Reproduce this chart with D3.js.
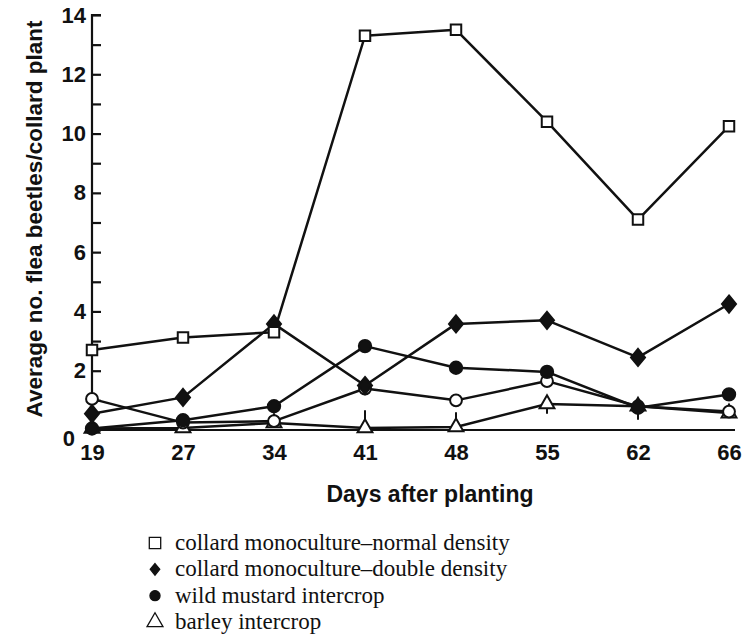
<!DOCTYPE html>
<html>
<head>
<meta charset="utf-8">
<script src="https://cdn.jsdelivr.net/npm/d3@7"></script>
<style>
  html, body { margin: 0; padding: 0; background: #ffffff; }
  svg { display: block; }
  .axis path, .axis line { stroke: #111; stroke-width: 2.2; }
  .axis text { font-family: "Liberation Sans", Arial, sans-serif; font-weight: bold; font-size: 22px; fill: #111; }
</style>
</head>
<body>
<div id="chart"></div>
<script>
(() => {
  'use strict';

  // ── Data ──
  const days = ['19', '27', '34', '41', '48', '55', '62', '66'];
  const normalDensity = [2.7, 3.12, 3.3, 13.3, 13.5, 10.4, 7.1, 10.25];
  const doubleDensity = [0.55, 1.1, 3.58, 1.5, 3.58, 3.7, 2.45, 4.25];
  const wildMustard   = [0.05, 0.33, 0.8, 2.83, 2.1, 1.96, 0.75, 1.2];
  const barley        = [0.05, 0.07, 0.24, 0.07, 0.1, 0.88, 0.8, 0.57];
  const openCircle    = [1.05, 0.25, 0.3, 1.4, 1.0, 1.65, 0.8, 0.62];
  // partial error bars on the barley series [day, low, high]
  const barleyErr = [['41', 0.07, 0.67], ['48', 0.1, 0.6], ['55', 0.55, 0.88], ['62', 0.35, 0.8]];
  const yTicks = [0, 2, 4, 6, 8, 10, 12, 14];
  const legendLabels = [
    'collard monoculture–normal density',
    'collard monoculture–double density',
    'wild mustard intercrop',
    'barley intercrop'
  ];

  const W = 753, H = 638;
  const ink = '#111';

  // squat diamond, closer to the printed marker than d3.symbolDiamond
  const fatDiamond = {
    draw(ctx, size) {
      const h = Math.sqrt(size) * 0.78, w = h * 0.82;
      ctx.moveTo(0, -h); ctx.lineTo(w, 0); ctx.lineTo(0, h); ctx.lineTo(-w, 0); ctx.closePath();
    }
  };

  const svg = d3.select('#chart').append('svg')
    .attr('width', W).attr('height', H);

  // ── Scales ──
  const x = d3.scalePoint().domain(days).range([92, 729]);
  const y = d3.scaleLinear().domain([0, 14]).range([430, 15]);

  // ── Axes ──
  svg.append('g').attr('class', 'axis')
    .attr('transform', 'translate(92,0)')
    .call(d3.axisRight(y).tickValues(d3.range(0, 15, 1)).tickSize(9).tickFormat(''))
    .call(g => g.select('.domain').attr('d', `M0,${y(0)}V${y(14)}H9`));

  svg.append('g').attr('class', 'axis')
    .attr('transform', 'translate(92,0)')
    .call(d3.axisLeft(y).tickValues(yTicks).tickSize(0).tickPadding(6))
    .call(g => g.select('.domain').remove())
    .call(g => g.selectAll('text').filter(d => d === 0).attr('dx', '-0.5em').attr('dy', '0.7em'));

  svg.append('g').attr('class', 'axis')
    .attr('transform', `translate(0,${y(0)})`)
    .call(d3.axisBottom(x).tickSize(0).tickPadding(14))
    .call(g => g.select('.domain').attr('d', `M92,0H735`))
    .call(g => g.selectAll('text').attr('font-size', '21px'));

  // Axis titles
  svg.append('text')
    .attr('x', 430).attr('y', 502)
    .attr('text-anchor', 'middle')
    .attr('font-family', '"Liberation Sans", Arial, sans-serif')
    .attr('font-weight', 'bold').attr('font-size', '23px').attr('fill', ink)
    .text('Days after planting');

  svg.append('text')
    .attr('transform', 'rotate(-90)')
    .attr('x', -219).attr('y', 42)
    .attr('text-anchor', 'middle')
    .attr('font-family', '"Liberation Sans", Arial, sans-serif')
    .attr('font-weight', 'bold').attr('font-size', '22.5px').attr('fill', ink)
    .text('Average no. flea beetles/collard plant');

  // ── Lines ──
  const line = d3.line().x(d => x(d[0])).y(d => y(d[1]));
  const pairs = vals => days.map((d, i) => [d, vals[i]]);

  const series = [
    { vals: barley,        sym: d3.symbolTriangle, size: 95,  fill: '#fff' },
    { vals: openCircle,    sym: d3.symbolCircle,   size: 110, fill: '#fff' },
    { vals: wildMustard,   sym: d3.symbolCircle,   size: 120, fill: ink },
    { vals: doubleDensity, sym: fatDiamond,        size: 120, fill: ink },
    { vals: normalDensity, sym: d3.symbolSquare,   size: 110, fill: '#fff' }
  ];

  // error bars
  svg.selectAll('.err').data(barleyErr).join('line')
    .attr('x1', d => x(d[0])).attr('x2', d => x(d[0]))
    .attr('y1', d => y(d[1])).attr('y2', d => y(d[2]))
    .attr('stroke', ink).attr('stroke-width', 2);

  series.forEach(s => {
    svg.append('path')
      .datum(pairs(s.vals))
      .attr('fill', 'none').attr('stroke', ink)
      .attr('stroke-width', 2.5).attr('stroke-linejoin', 'round')
      .attr('d', line);
  });

  series.forEach(s => {
    svg.selectAll(null).data(pairs(s.vals)).join('path')
      .attr('transform', d => `translate(${x(d[0])},${y(d[1])})`)
      .attr('d', d3.symbol().type(s.sym).size(s.size))
      .attr('fill', s.fill).attr('stroke', ink).attr('stroke-width', 2);
  });

  // ── Legend ──
  const legSyms = [
    { sym: d3.symbolSquare,   size: 130, fill: '#fff' },
    { sym: fatDiamond,        size: 55,  fill: ink },
    { sym: d3.symbolCircle,   size: 80,  fill: ink },
    { sym: d3.symbolTriangle, size: 110, fill: '#fff' }
  ];
  const legY = d3.scalePoint().domain(legendLabels).range([543, 622]);
  const leg = svg.append('g');
  legendLabels.forEach((lab, i) => {
    leg.append('path')
      .attr('transform', `translate(155,${legY(lab)})`)
      .attr('d', d3.symbol().type(legSyms[i].sym).size(legSyms[i].size))
      .attr('fill', legSyms[i].fill).attr('stroke', ink).attr('stroke-width', 1.3);
    leg.append('text')
      .attr('x', 175).attr('y', legY(lab) + 7)
      .attr('font-family', '"Liberation Serif", "Times New Roman", serif')
      .attr('font-size', '23px').attr('fill', ink)
      .text(lab);
  });
})();
</script>
</body>
</html>
